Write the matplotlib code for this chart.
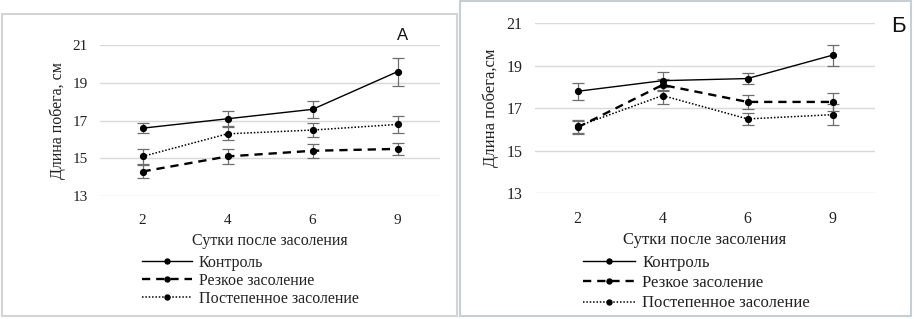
"""
Длина побега: контроль / резкое / постепенное засоление (панели А и Б).
"""
import matplotlib
matplotlib.use('Agg')
import matplotlib.pyplot as plt
from matplotlib.patches import Rectangle

plt.rcParams['font.family'] = ['Liberation Serif', 'DejaVu Serif']

DAYS = ['2', '4', '6', '9']
SERIES = ['Контроль', 'Резкое засоление', 'Постепенное засоление']

# панель А
A_CONTROL = [16.6, 17.1, 17.6, 19.6]
A_CONTROL_ERR = [0.25, 0.4, 0.45, 0.75]
A_SHARP = [14.3, 15.1, 15.4, 15.5]
A_SHARP_ERR = [0.35, 0.4, 0.36, 0.33]
A_GRADUAL = [15.1, 16.3, 16.5, 16.8]
A_GRADUAL_ERR = [0.42, 0.35, 0.36, 0.44]

# панель Б
B_CONTROL = [17.8, 18.3, 18.4, 19.5]
B_CONTROL_ERR = [0.4, 0.42, 0.25, 0.5]
B_SHARP = [16.1, 18.1, 17.3, 17.3]
B_SHARP_ERR = [0.3, 0.3, 0.33, 0.44]
B_GRADUAL = [16.15, 17.6, 16.5, 16.7]
B_GRADUAL_ERR = [0.3, 0.38, 0.3, 0.48]

Y_TICKS = [13, 15, 17, 19, 21]

STYLES = [
    dict(linestyle='-', linewidth=1.0),
    dict(linestyle=(0, (3.5, 2.5)), linewidth=1.7),
    dict(linestyle=(0, (1, 1.2)), linewidth=1.1),
]

W, H = 915, 319


def draw_panel(fig, rect, data, fs, letter, letter_xy, letter_fs,
               ylabel, ylabel_xy, xlabel_y, legend_xy, labelspacing):
    ax = fig.add_axes(rect)
    x = list(range(len(DAYS)))
    handles = []
    for (vals, errs), style, name in zip(data, STYLES, SERIES):
        ax.errorbar(x, vals, yerr=errs, fmt='none', ecolor='#6e6e6e',
                    elinewidth=0.9, capsize=4, capthick=0.9, zorder=3)
        ln, = ax.plot(x, vals, color='black', marker='o', markersize=4.2,
                      label=name, zorder=4, **style)
        handles.append(ln)
    ax.set_xlim(-0.5, len(DAYS) - 0.5)
    ax.set_ylim(13, 21)
    ax.set_yticks(Y_TICKS)
    ax.set_xticks(x)
    ax.set_xticklabels(DAYS)
    ax.grid(axis='y', color='#d9d9d9', linewidth=1.0)
    ax.set_axisbelow(True)
    for s in ax.spines.values():
        s.set_visible(False)
    ax.tick_params(length=0, labelsize=fs, colors='#222222')
    ax.tick_params(axis='y', pad=9)
    ax.tick_params(axis='x', pad=13)

    fig.text(ylabel_xy[0] / W, 1 - ylabel_xy[1] / H, ylabel, rotation=90,
             ha='center', va='center', fontsize=fs + 0.5, color='#222222')
    fig.text((rect[0] + rect[2] / 2), 1 - xlabel_y / H, 'Сутки после засоления',
             ha='center', va='center', fontsize=fs + 0.5, color='#222222')
    fig.text(letter_xy[0] / W, 1 - letter_xy[1] / H, letter,
             ha='center', va='center', fontsize=letter_fs,
             family='Liberation Sans', color='#111111')

    leg = fig.legend(handles=handles, loc='upper left',
                     bbox_to_anchor=(legend_xy[0] / W, 1 - legend_xy[1] / H),
                     frameon=False, fontsize=fs + 0.5, handlelength=3.1,
                     numpoints=1, markerscale=0.85,
                     handletextpad=0.45, labelspacing=labelspacing,
                     borderpad=0, borderaxespad=0)
    for t in leg.get_texts():
        t.set_color('#222222')
    return ax


fig = plt.figure(figsize=(W / 100, H / 100), dpi=100)
fig.patch.set_facecolor('white')

# рамки панелей
fig.patches.append(Rectangle((2 / W, 3 / H), 455 / W, 302 / H, fill=False,
                             edgecolor='#d4d4d4', linewidth=1.5,
                             transform=fig.transFigure))
fig.patches.append(Rectangle((460 / W, 3 / H), 451 / W, 315 / H, fill=False,
                             edgecolor='#c6ced8', linewidth=1.5,
                             transform=fig.transFigure))

draw_panel(fig,
           [100 / W, (H - 196) / H, 340 / W, 150.7 / H],
           [(A_CONTROL, A_CONTROL_ERR), (A_SHARP, A_SHARP_ERR),
            (A_GRADUAL, A_GRADUAL_ERR)],
           11, 'А', (403, 35), 12,
           'Длина побега, см', (58, 121), 241, (142, 255), 0.12)

draw_panel(fig,
           [535 / W, (H - 193.3) / H, 340 / W, 170 / H],
           [(B_CONTROL, B_CONTROL_ERR), (B_SHARP, B_SHARP_ERR),
            (B_GRADUAL, B_GRADUAL_ERR)],
           11.5, 'Б', (898, 26), 16,
           'Длина побега,см', (491, 108), 240, (583, 255), 0.25)

fig.savefig('out.png', dpi=100, facecolor='white')
